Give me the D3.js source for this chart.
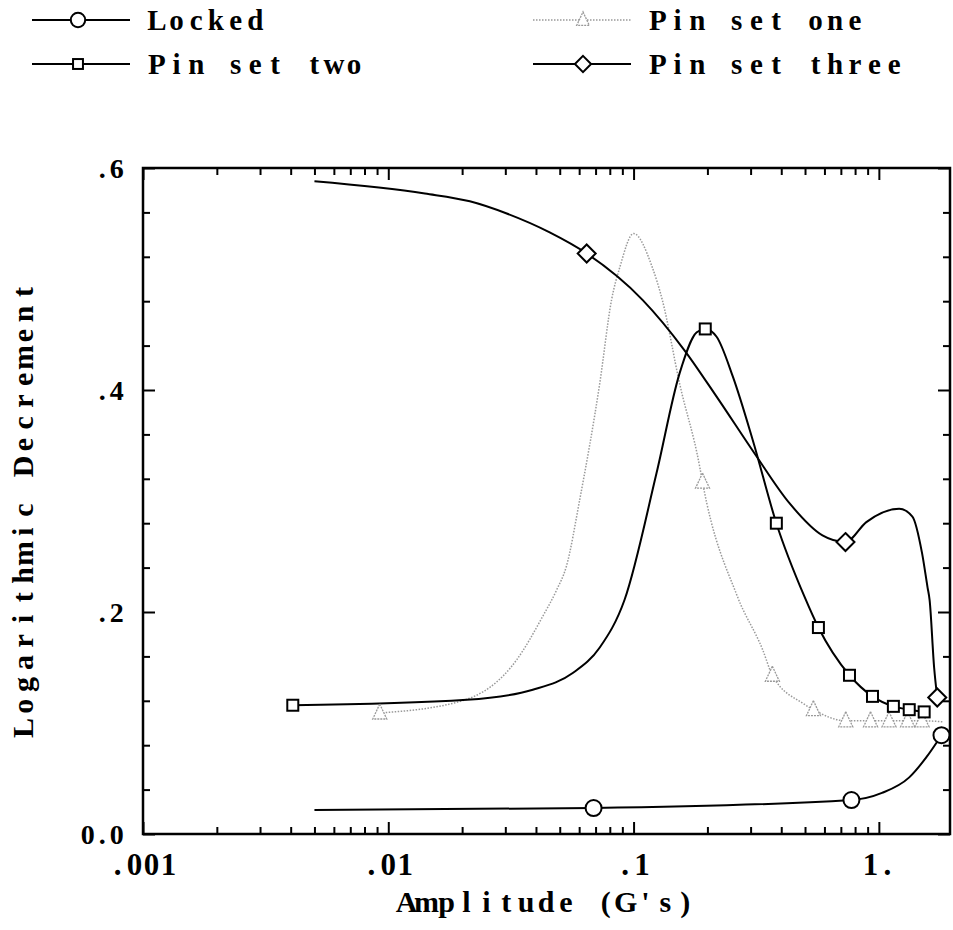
<!DOCTYPE html>
<html><head><meta charset="utf-8">
<script src="https://cdn.jsdelivr.net/npm/d3@7"></script>
<style>body{margin:0;background:#fff}svg{display:block}</style>
</head><body>
<script>
// ---- Data ----
const seriesNames = ["Locked", "Pin set one", "Pin set two", "Pin set three"];

// Locked
const lockedAmp   = [0.005, 0.0687, 0.773, 1.03, 1.33, 1.56, 1.80];
const lockedDec   = [0.0216, 0.0234, 0.0306, 0.037, 0.051, 0.069, 0.089];
const lockedMarkAmp = [0.0687, 0.773, 1.80];
const lockedMarkDec = [0.0234, 0.0306, 0.089];

// Pin set one
const pin1Amp = [0.00923, 0.020, 0.0334, 0.0426, 0.0486, 0.0532, 0.0603, 0.0728, 0.0813, 0.088, 0.1, 0.119, 0.131, 0.154, 0.186, 0.191, 0.265, 0.336, 0.368, 0.488, 0.541, 0.733, 0.925, 1.10, 1.31, 1.50, 1.83];
const pin1Dec = [0.109, 0.120, 0.157, 0.196, 0.220, 0.241, 0.301, 0.406, 0.481, 0.511, 0.541, 0.511, 0.481, 0.406, 0.331, 0.317, 0.214, 0.166, 0.143, 0.118, 0.112, 0.102, 0.102, 0.102, 0.102, 0.102, 0.101];
const pin1MarkAmp = [0.00923, 0.191, 0.368, 0.541, 0.733, 0.925, 1.10, 1.31, 1.50];
const pin1MarkDec = [0.109, 0.317, 0.143, 0.112, 0.102, 0.102, 0.102, 0.102, 0.102];

// Pin set two
const pin2Amp = [0.00408, 0.0209, 0.0388, 0.0565, 0.0728, 0.0919, 0.124, 0.154, 0.181, 0.196, 0.218, 0.254, 0.306, 0.382, 0.497, 0.567, 0.759, 0.942, 1.146, 1.33, 1.53];
const pin2Dec = [0.116, 0.121, 0.130, 0.145, 0.168, 0.211, 0.325, 0.415, 0.452, 0.455, 0.448, 0.412, 0.355, 0.280, 0.214, 0.186, 0.143, 0.124, 0.115, 0.112, 0.110];
const pin2MarkAmp = [0.00408, 0.196, 0.382, 0.567, 0.759, 0.942, 1.146, 1.33, 1.53];
const pin2MarkDec = [0.116, 0.455, 0.280, 0.186, 0.143, 0.124, 0.115, 0.112, 0.110];

// Pin set three
const pin3Amp = [0.005, 0.0141, 0.0215, 0.0304, 0.0455, 0.0644, 0.109, 0.161, 0.218, 0.311, 0.432, 0.589, 0.731, 0.889, 1.21, 1.37, 1.50, 1.58, 1.61, 1.68, 1.73];
const pin3Dec = [0.588, 0.577, 0.570, 0.559, 0.542, 0.523, 0.481, 0.436, 0.394, 0.343, 0.298, 0.269, 0.263, 0.281, 0.293, 0.286, 0.253, 0.222, 0.211, 0.150, 0.123];
const pin3MarkAmp = [0.0644, 0.731, 1.73];
const pin3MarkDec = [0.523, 0.263, 0.123];

// Axes
const xTickValues = [0.001, 0.01, 0.1, 1];
const xTickLabels = [".001", ".01", ".1", "1."];
const yTickValues = [0, 0.2, 0.4, 0.6];
const yTickLabels = ["0.0", ".2", ".4", ".6"];
const xTitle = "Amplitude (G's)";
const yTitle = "Logarithmic Decrement";

// ---- Layout ----
const W = 953, H = 930;
const L = 143, R = 950, T = 168, B = 834;
const FONT = "'Liberation Serif', 'DejaVu Serif', serif";

const svg = d3.select("body").append("svg").attr("width", W).attr("height", H);

const x = d3.scaleLog().domain([0.001, 1.95]).range([L, R]);
const y = d3.scaleLinear().domain([0, 0.6]).range([B, T]);

// monospace-cell text with serif glyphs
function cellText(g, str, cx, cy, cell, size, anchor) {
  const n = str.length;
  const start = anchor === "middle" ? cx - n * cell / 2 : anchor === "end" ? cx - n * cell : cx;
  const xs = [];
  for (let i = 0; i < n; i++) xs.push((start + (i + 0.5) * cell).toFixed(1));
  return g.append("text")
    .attr("x", xs.join(" ")).attr("y", cy)
    .attr("text-anchor", "middle")
    .attr("font-family", FONT).attr("font-weight", "bold")
    .attr("font-size", size).attr("fill", "#000")
    .style("white-space", "pre")
    .text(str);
}

// ---- Ticks (inward on all four sides) ----
const minorX = [];
[0.001, 0.01, 0.1, 1].forEach(d => { for (let k = 2; k <= 9; k++) { const v = d * k; if (v <= 1.95) minorX.push(v); } });
const minorY = d3.range(1, 15).map(i => i * 0.04).filter(v => Math.abs(v / 0.2 - Math.round(v / 0.2)) > 1e-6);

function addAxis(axisFn, scale, vals, len, tr) {
  const g = svg.append("g").attr("transform", tr)
    .call(axisFn(scale).tickValues(vals).tickSize(len).tickFormat(""));
  g.select(".domain").remove();
  g.selectAll(".tick line").attr("stroke", "#000").attr("stroke-width", 2);
}
addAxis(d3.axisBottom, x, minorX, -7, `translate(0,${B})`);
addAxis(d3.axisBottom, x, xTickValues, -12, `translate(0,${B})`);
addAxis(d3.axisTop, x, minorX, -7, `translate(0,${T})`);
addAxis(d3.axisTop, x, xTickValues, -12, `translate(0,${T})`);
addAxis(d3.axisLeft, y, minorY, -7, `translate(${L},0)`);
addAxis(d3.axisLeft, y, yTickValues, -12, `translate(${L},0)`);
addAxis(d3.axisRight, y, minorY, -7, `translate(${R},0)`);
addAxis(d3.axisRight, y, yTickValues, -12, `translate(${R},0)`);

svg.append("rect").attr("x", L).attr("y", T).attr("width", R - L).attr("height", B - T)
  .attr("fill", "none").attr("stroke", "#000").attr("stroke-width", 2.5);

// tick labels
const lab = svg.append("g");
xTickValues.forEach((v, i) => {
  cellText(lab, xTickLabels[i], x(v), 875, 17, 31, "middle");
});
yTickValues.forEach((v, i) => {
  cellText(lab, yTickLabels[i], 124, y(v) + 10, 14.5, 28, "end");
});

// axis titles
cellText(svg, xTitle, 546, 912, 19.9, 30, "middle");
const yt = svg.append("g").attr("transform", "translate(33,510) rotate(-90)");
cellText(yt, yTitle, 0, 0, 21.8, 30, "middle");

// ---- Series ----
const line = d3.line().x(d => x(d[0])).y(d => y(d[1])).curve(d3.curveMonotoneX);
const zip = (a, b) => a.map((v, i) => [v, b[i]]);

const series = [
  {amp: lockedAmp, dec: lockedDec, mA: lockedMarkAmp, mD: lockedMarkDec, sym: "circle", color: "#000", dash: null, w: 2},
  {amp: pin1Amp, dec: pin1Dec, mA: pin1MarkAmp, mD: pin1MarkDec, sym: "triangle", color: "#999", dash: "1.5,1.5", w: 1.5},
  {amp: pin2Amp, dec: pin2Dec, mA: pin2MarkAmp, mD: pin2MarkDec, sym: "square", color: "#000", dash: null, w: 2},
  {amp: pin3Amp, dec: pin3Dec, mA: pin3MarkAmp, mD: pin3MarkDec, sym: "diamond", color: "#000", dash: null, w: 2}
];

function drawMarker(g, sym, cx, cy, color, dash, s) {
  s = s || 1;
  let el;
  if (sym === "circle") {
    el = g.append("circle").attr("cx", cx).attr("cy", cy).attr("r", 8 * s);
  } else if (sym === "square") {
    el = g.append("rect").attr("x", cx - 5.5 * s).attr("y", cy - 5.5 * s).attr("width", 11 * s).attr("height", 11 * s);
  } else if (sym === "diamond") {
    const r = 9 * s;
    el = g.append("path").attr("d", `M${cx},${cy - r}L${cx + r},${cy}L${cx},${cy + r}L${cx - r},${cy}Z`);
  } else {
    el = g.append("path").attr("d", `M${cx},${cy - 9 * s}L${cx + 7 * s},${cy + 6 * s}L${cx - 7 * s},${cy + 6 * s}Z`);
  }
  el.attr("fill", "#fff").attr("stroke", color).attr("stroke-width", sym === "triangle" ? 1.3 : 2);
  if (dash) el.attr("stroke-dasharray", "2,1");
}

const plot = svg.append("g");
[1, 0, 2, 3].forEach(si => {
  const s = series[si];
  const p = plot.append("path").datum(zip(s.amp, s.dec))
    .attr("d", line).attr("fill", "none")
    .attr("stroke", s.color).attr("stroke-width", s.w);
  if (s.dash) p.attr("stroke-dasharray", s.dash);
});
[1, 0, 2, 3].forEach(si => {
  const s = series[si];
  const g = plot.append("g");
  zip(s.mA, s.mD).forEach(d => drawMarker(g, s.sym, x(d[0]), y(d[1]), s.color, s.dash));
});

// ---- Legend ----
const leg = svg.append("g");
const legPos = [
  {lx: 32, mx: 78, tx: 147, yy: 20},
  {lx: 533, mx: 583, tx: 648, yy: 20},
  {lx: 32, mx: 78, tx: 147, yy: 64},
  {lx: 533, mx: 583, tx: 648, yy: 64}
];
series.forEach((s, i) => {
  const p = legPos[i];
  const ln = leg.append("line").attr("x1", p.lx).attr("x2", p.lx + 98).attr("y1", p.yy).attr("y2", p.yy)
    .attr("stroke", s.color).attr("stroke-width", s.w);
  if (s.dash) ln.attr("stroke-dasharray", s.dash);
  drawMarker(leg, s.sym, p.mx, p.yy, s.color, s.dash, 0.9);
  cellText(leg, seriesNames[i], p.tx, p.yy + 10, 19.7, 29, "start");
});
</script>
</body></html>
